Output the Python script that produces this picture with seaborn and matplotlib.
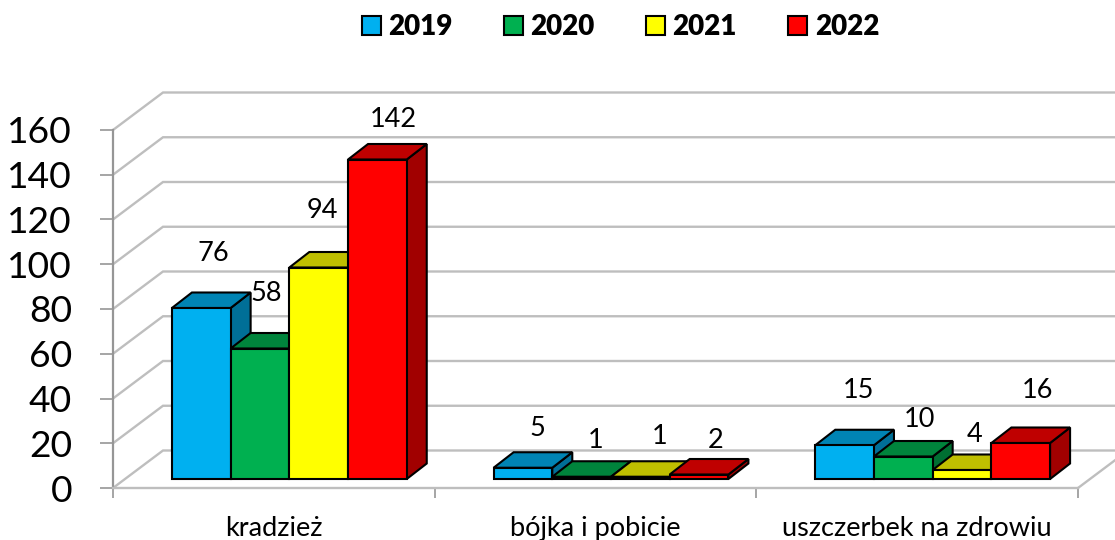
import matplotlib
matplotlib.use("Agg")
import matplotlib.pyplot as plt
from matplotlib.colors import to_rgb
from matplotlib.patches import Patch, Polygon
import pandas as pd
import seaborn as sns

categories = ["kradzież", "bójka i pobicie", "uszczerbek na zdrowiu"]
years = ["2019", "2020", "2021", "2022"]
values_2019 = [76, 5, 15]
values_2020 = [58, 1, 10]
values_2021 = [94, 1, 4]
values_2022 = [142, 2, 16]
y_ticks = [0, 20, 40, 60, 80, 100, 120, 140, 160]

colors = ["#00B0F0", "#00B050", "#FFFF00", "#FF0000"]
# hand-placed data label offsets from the bar's top centre, in pixels
label_dx = [[12, 14, 14], [6, 14, 16], [4, 19, 13], [16, 17, 17]]
label_dy = [[55, 39, 55], [55, 36, 37], [57, 40, 36], [40, 34, 53]]

W, H = 1115, 540
sns.set_theme(style="white")
plt.rcParams["font.family"] = ["Lato", "DejaVu Sans"]

rows = []
for yr, vals in zip(years, [values_2019, values_2020, values_2021, values_2022]):
    for c, v in zip(categories, vals):
        rows.append({"kategoria": c, "rok": yr, "liczba": v})
df = pd.DataFrame(rows)

fig = plt.figure(figsize=(W / 100, H / 100), dpi=100, facecolor="white")


def box(x0, x1, y_bottom, y_top):
    return [x0 / W, 1 - y_bottom / H, (x1 - x0) / W, (y_bottom - y_top) / H]


# ---- wall / axes frame
ax = fig.add_axes(box(113, 1078, 488, 130))
ax.set_xlim(-0.5, 2.5)
ax.set_ylim(0, 160)
ax.patch.set_alpha(0)
px_x = 3 / 965
px_y = 160 / 358
wall_dx, wall_dy = 50 * px_x, 37.5 * px_y
grid = "#BEBEBE"
for t in y_ticks:
    ax.plot([-0.5, -0.5 + wall_dx, 2.5 + wall_dx], [t, t + wall_dy, t + wall_dy],
            color=grid, lw=1.7, clip_on=False, zorder=1, solid_joinstyle="miter")
ax.plot([2.5, 2.5 + wall_dx], [0, wall_dy], color=grid, lw=1.7, clip_on=False, zorder=1)
for s in ["top", "right"]:
    ax.spines[s].set_visible(False)
ax.spines["left"].set_color("#969696")
ax.spines["left"].set_linewidth(1.6)
ax.spines["bottom"].set_color("#BEBEBE")
ax.spines["bottom"].set_linewidth(1.7)
ax.set_yticks(y_ticks)
ax.set_yticklabels([str(t) for t in y_ticks], fontsize=26.8, color="black", va="center_baseline")
ax.set_xticks([-0.5, 0.5, 1.5, 2.5])
ax.set_xticklabels([])
ax.set_xticks([0, 1, 2], minor=True)
ax.set_xticklabels(categories, minor=True, fontsize=19.5, color="black")
ax.tick_params(axis="y", length=9.5, width=1.2, color="#969696", left=True, pad=20)
ax.tick_params(axis="x", which="major", length=7, width=1.2, color="#969696", bottom=True)
ax.tick_params(axis="x", which="minor", length=0, pad=20, bottom=False)

# ---- bars
bx = fig.add_axes(box(128.5, 1093.5, 479, 119))
bx.patch.set_alpha(0)
sns.barplot(data=df, x="kategoria", y="liczba", hue="rok", order=categories, hue_order=years,
            palette=colors, width=0.73, gap=0, saturation=1, edgecolor="black", linewidth=1.5,
            legend=False, ax=bx, clip_on=False)
bx.set_xlim(-0.5, 2.5)
bx.set_ylim(0, 160)
bx.axis("off")

depth_x = 20 * 3 / 965
depth_y = 15.5 * 160 / 360


def shade(c, f):
    return tuple(v * f for v in to_rgb(c))


bars = [p for p in bx.patches if p.get_width() > 0]
n_cat = len(categories)
for i, p in enumerate(bars):
    h = i // n_cat
    c = i % n_cat
    x0, w, top = p.get_x(), p.get_width(), p.get_height()
    x1 = x0 + w
    col = colors[h]
    p.set_zorder(3 * h + 5)
    p.set_joinstyle("miter")
    kw = dict(edgecolor="black", linewidth=1.5, clip_on=False, joinstyle="miter", zorder=3 * h + 4)
    bx.add_patch(Polygon([(x1, 0), (x1 + depth_x, depth_y), (x1 + depth_x, top + depth_y), (x1, top)],
                         facecolor=shade(col, 0.63), **kw))
    bx.add_patch(Polygon([(x0, top), (x0 + depth_x, top + depth_y), (x1 + depth_x, top + depth_y), (x1, top)],
                         facecolor=shade(col, 0.75), **kw))
    bx.annotate(str(int(top)), xy=(x0 + w / 2, top),
                xytext=(label_dx[h][c], label_dy[h][c]), textcoords="offset pixels",
                ha="center", va="center", fontsize=19.5, color="black", zorder=40,
                annotation_clip=False)

# ---- legend
handles = [Patch(facecolor=c, edgecolor="black", linewidth=1.5) for c in colors]
fig.legend(handles, years, loc="center left", bbox_to_anchor=(337 / W, 1 - 27 / H), ncol=4, frameon=False,
           prop={"size": 20, "weight": "heavy"}, handlelength=0.68, handleheight=0.68,
           handletextpad=0.27, columnspacing=1.85, labelcolor="black")

fig.savefig("out.png", dpi=100, facecolor="white")
